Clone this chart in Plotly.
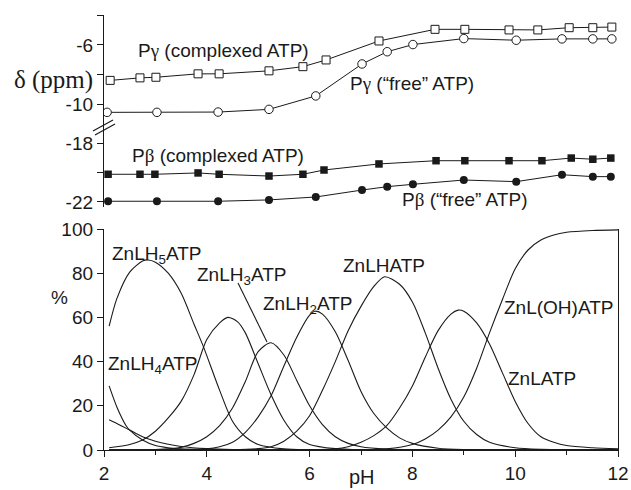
import plotly.graph_objects as go

# ---------------- top panel data (31P shifts, ppm) ----------------
ph_g_cplx = [2.12, 2.70, 3.01, 3.83, 4.24, 5.21, 5.87, 6.32, 7.35, 8.44, 9.02, 9.88, 10.44, 11.05, 11.51, 11.88]
d_g_cplx = [-8.38, -8.21, -8.17, -7.94, -7.94, -7.74, -7.46, -7.01, -5.74, -4.96, -4.96, -5.0, -5.0, -4.85, -4.85, -4.81]

ph_g_free = [2.06, 3.03, 4.22, 5.21, 6.12, 7.02, 7.51, 8.01, 9.0, 10.02, 10.91, 11.51, 11.88]
d_g_free = [-10.52, -10.52, -10.5, -10.32, -9.42, -7.28, -6.46, -5.98, -5.58, -5.69, -5.6, -5.6, -5.6]

ph_b_cplx = [2.08, 2.70, 2.99, 3.83, 4.24, 5.21, 5.87, 6.28, 7.35, 8.46, 9.02, 9.88, 10.52, 11.09, 11.51, 11.86]
d_b_cplx = [-20.12, -20.12, -20.12, -20.03, -20.12, -20.24, -20.12, -19.83, -19.42, -19.2, -19.2, -19.2, -19.2, -19.02, -19.1, -19.02]

ph_b_free = [2.08, 3.03, 4.22, 5.21, 6.12, 7.02, 7.51, 8.01, 9.0, 10.02, 10.91, 11.51, 11.86]
d_b_free = [-21.95, -21.95, -21.95, -21.86, -21.66, -21.19, -20.96, -20.8, -20.51, -20.62, -20.15, -20.28, -20.28]

# ---------------- bottom panel data (species distribution, %) ----------------
ph_A = [2.1, 2.25, 2.5, 2.75, 2.86, 3.0, 3.25, 3.5, 3.75, 3.93, 4.25, 4.5, 4.75, 5.0, 5.5, 6.0, 7.0, 12]
pc_A = [56, 68.5, 80.5, 85.5, 86, 85, 80, 71, 57, 47, 27, 13, 6, 2.5, 0.5, 0.1, 0, 0]

ph_B = [2.1, 2.25, 2.43, 2.5, 2.75, 3.0, 3.25, 3.5, 4.0, 5.0, 12]
pc_B = [29, 19.5, 11, 9, 4.5, 2, 1, 0.5, 0.2, 0, 0]

ph_C = [2.1, 2.25, 2.5, 2.75, 3.0, 3.25, 3.5, 4.0, 4.5, 5.5, 12]
pc_C = [13.7, 12, 9, 6, 4, 2.6, 1.6, 0.6, 0.2, 0, 0]

ph_D = [2.1, 2.5, 2.75, 3.0, 3.25, 3.5, 3.75, 4.0, 4.25, 4.41, 4.6, 4.75, 5.0, 5.25, 5.5, 5.75, 6.0, 6.5, 7.0, 12]
pc_D = [1, 2.5, 4.5, 8.5, 14.5, 22, 34, 50, 57.5, 60, 58, 53, 39, 25, 13.5, 6, 2.5, 0.6, 0.1, 0]

ph_E = [2.1, 3.0, 3.5, 3.75, 4.0, 4.25, 4.5, 4.75, 5.0, 5.25, 5.5, 5.75, 6.0, 6.25, 6.5, 6.75, 7.0, 7.5, 8.0, 12]
pc_E = [0, 0.2, 1.2, 3, 6, 11, 19, 31, 44.5, 48.5, 43, 31.5, 20, 11.5, 6, 3, 1.5, 0.4, 0.1, 0]

ph_F = [2.1, 3.5, 4.0, 4.25, 4.5, 4.75, 5.0, 5.25, 5.5, 5.75, 6.0, 6.11, 6.25, 6.5, 6.75, 7.0, 7.25, 7.5, 7.75, 8.0, 8.5, 9.0, 12]
pc_F = [0, 0.1, 0.5, 1.5, 3.5, 8, 15, 24.5, 38, 51, 61, 62.8, 61.5, 53.5, 40.5, 26.5, 16.5, 10, 5.5, 3, 0.8, 0.2, 0]

ph_G = [2.1, 4.5, 5.0, 5.25, 5.5, 5.75, 6.0, 6.25, 6.5, 6.75, 7.0, 7.25, 7.46, 7.75, 8.0, 8.25, 8.5, 8.75, 9.0, 9.25, 9.5, 10.0, 10.5, 12]
pc_G = [0, 0.1, 0.6, 1.5, 4, 8.5, 15.5, 27, 40, 54, 65, 74, 78.4, 75, 67, 53, 37, 23, 13, 7, 3.5, 1, 0.3, 0]

ph_H = [2.1, 6.0, 6.5, 6.75, 7.0, 7.25, 7.5, 7.75, 8.0, 8.25, 8.5, 8.75, 8.89, 9.0, 9.25, 9.5, 9.75, 10.0, 10.25, 10.5, 10.75, 11.0, 11.5, 12]
pc_H = [0, 0.1, 0.5, 1.5, 3.5, 6.5, 11, 19, 29, 42, 54, 61.5, 63.3, 62.8, 57.5, 48, 35, 22, 12, 6, 3.5, 2, 1, 0.5]

ph_I = [2.1, 7.0, 7.5, 8.0, 8.25, 8.5, 8.75, 9.0, 9.25, 9.5, 9.75, 10.0, 10.25, 10.5, 10.75, 11.0, 11.5, 12]
pc_I = [0, 0.1, 0.5, 2.5, 5, 9, 15, 24, 37, 53, 68, 82, 90.5, 95, 97.3, 98.5, 99.3, 99.6]

x_ticks = [2, 4, 6, 8, 10, 12]
x_minor = [3, 5, 7, 9, 11]
pct_ticks = [0, 20, 40, 60, 80, 100]
upper_ticks = [-6, -10]
upper_text = ["-6", "-10"]
upper_minor = [-4, -8]
lower_ticks = [-18, -22]
lower_text = ["-18", "-22"]
lower_minor = [-20]

# ---------------- geometry helpers ----------------
W, H = 631, 490
ML, MR, MT, MB = 104, 13, 15, 40
PW = W - ML - MR
PHt = H - MT - MB


def px(x):
    return (x - ML) / PW


def py(y):
    return (H - MB - y) / PHt


SANS = "Liberation Sans, Arial, sans-serif"
SERIF = "Liberation Serif, Times New Roman, serif"
INK = "#1a1a1a"
FS = 19

fig = go.Figure()

line_style = dict(color=INK, width=1)
fig.add_trace(go.Scatter(x=ph_g_cplx, y=d_g_cplx, yaxis="y2", mode="lines+markers", line=line_style,
                         marker=dict(symbol="square", size=8, color="white", line=dict(color=INK, width=1))))
fig.add_trace(go.Scatter(x=ph_g_free, y=d_g_free, yaxis="y2", mode="lines+markers", line=line_style,
                         marker=dict(symbol="circle", size=8.5, color="white", line=dict(color=INK, width=1))))
fig.add_trace(go.Scatter(x=ph_b_cplx, y=d_b_cplx, yaxis="y3", mode="lines+markers", line=line_style,
                         marker=dict(symbol="square", size=7.5, color=INK, line=dict(color=INK, width=0))))
fig.add_trace(go.Scatter(x=ph_b_free, y=d_b_free, yaxis="y3", mode="lines+markers", line=line_style,
                         marker=dict(symbol="circle", size=8, color=INK, line=dict(color=INK, width=0))))

for xs, ys in [(ph_A, pc_A), (ph_B, pc_B), (ph_C, pc_C), (ph_D, pc_D), (ph_E, pc_E),
               (ph_F, pc_F), (ph_G, pc_G), (ph_H, pc_H), (ph_I, pc_I)]:
    fig.add_trace(go.Scatter(x=xs, y=ys, yaxis="y", mode="lines",
                             line=dict(color=INK, width=1.1, shape="spline", smoothing=0.8)))

axis_common = dict(showgrid=False, zeroline=False, showline=True, linecolor=INK, linewidth=1.3,
                   ticks="outside", ticklen=6, tickwidth=1.2, tickcolor=INK, automargin=False,
                   tickfont=dict(family=SANS, size=FS, color=INK))

fig.update_layout(
    width=W, height=H, margin=dict(l=ML, r=MR, t=MT, b=MB),
    paper_bgcolor="white", plot_bgcolor="white", showlegend=False,
    xaxis=dict(domain=[0, 1], range=[2, 12], anchor="y", tickvals=x_ticks,
               minor=dict(tickvals=x_minor, ticks="outside", ticklen=4, tickcolor=INK, showgrid=False),
               **axis_common),
    yaxis=dict(domain=[0, py(229)], range=[0, 100], anchor="x", tickvals=pct_ticks, mirror=True,
               **axis_common),
    yaxis2=dict(domain=[py(124), 1], range=[-11.3, -4], anchor="x", tickvals=upper_ticks,
                ticktext=upper_text,
                minor=dict(tickvals=upper_minor, ticks="outside", ticklen=6, tickwidth=1.2,
                           tickcolor=INK, showgrid=False),
                **axis_common),
    yaxis3=dict(domain=[py(207), py(124)], range=[-22.34, -16.71], anchor="x", tickvals=lower_ticks,
                ticktext=lower_text,
                minor=dict(tickvals=lower_minor, ticks="outside", ticklen=6, tickwidth=1.2,
                           tickcolor=INK, showgrid=False),
                **axis_common),
)

g = "<span style='font-family:Liberation Serif'>γ</span>"
b = "<span style='font-family:Liberation Serif'>β</span>"
labels = [
    ("P" + g + " (complexed ATP)", 136, 50),
    ("P" + g + " (“free” ATP)", 348, 83),
    ("P" + b + " (complexed ATP)", 130, 155),
    ("P" + b + " (“free” ATP)", 400, 199),
    ("ZnLH<sub>5</sub>ATP", 110, 255),
    ("ZnLH<sub>4</sub>ATP", 106, 365),
    ("ZnLH<sub>3</sub>ATP", 195, 276),
    ("ZnLH<sub>2</sub>ATP", 261, 305),
    ("ZnLHATP", 341, 265),
    ("ZnL(OH)ATP", 502, 307),
    ("ZnLATP", 506, 378),
]
ann = []
for t, x, y in labels:
    ann.append(dict(text=t, x=px(x), y=py(y), xref="paper", yref="paper", xanchor="left",
                    yanchor="middle", showarrow=False, font=dict(family=SANS, size=FS, color=INK)))
ann.append(dict(text="δ (ppm)", x=px(53), y=py(80), xref="paper", yref="paper", xanchor="center",
                yanchor="middle", showarrow=False, font=dict(family=SERIF, size=25, color=INK)))
ann.append(dict(text="%", x=px(59), y=py(297), xref="paper", yref="paper", xanchor="center",
                yanchor="middle", showarrow=False, font=dict(family=SANS, size=FS, color=INK)))
ann.append(dict(text="pH", x=px(362), y=py(477), xref="paper", yref="paper", xanchor="center",
                yanchor="middle", showarrow=False, font=dict(family=SANS, size=20, color=INK)))
fig.update_layout(annotations=ann)

shapes = [
    dict(type="line", xref="paper", yref="paper", x0=px(93), y0=py(131), x1=px(113), y1=py(120),
         line=dict(color=INK, width=1.2)),
    dict(type="line", xref="paper", yref="paper", x0=px(95), y0=py(135), x1=px(115), y1=py(124),
         line=dict(color=INK, width=1.2)),
    dict(type="line", xref="paper", yref="paper", x0=px(238), y0=py(283), x1=px(267), y1=py(342),
         line=dict(color=INK, width=1.1)),
]
fig.update_layout(shapes=shapes)

fig.write_html("out.html", config={"displayModeBar": False},
               post_script="document.body.style.margin='0';document.body.style.overflow='hidden';")
